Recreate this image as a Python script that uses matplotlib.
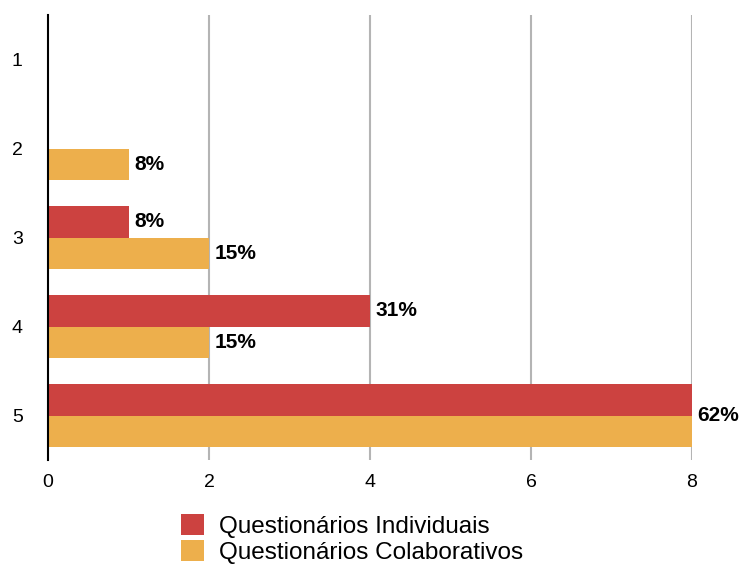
import matplotlib
matplotlib.use("Agg")
import matplotlib.pyplot as plt
from matplotlib.patches import Patch

categories = ["1", "2", "3", "4", "5"]
individuais = [0, 0, 1, 4, 8]
colaborativos = [0, 1, 2, 2, 8]
total = 13
x_ticks = [0, 2, 4, 6, 8]
series_names = ["Questionários Individuais", "Questionários Colaborativos"]

RED = "#CC4240"
YEL = "#EDAF4C"

plt.rcParams['font.family'] = ['Liberation Sans', 'DejaVu Sans']

fig = plt.figure(figsize=(7.41, 5.65), dpi=100)
ax = fig.add_axes([48/741, 1-460/565, (692-48)/741, (460-15)/565])

pos = list(range(1, len(categories)+1))
h = 0.35
ax.barh([p - h/2 for p in pos], individuais, height=h, color=RED, zorder=3)
ax.barh([p + h/2 for p in pos], colaborativos, height=h, color=YEL, zorder=3)

FS = 14
LFS = 15
for p, a, b in zip(pos, individuais, colaborativos):
    la = f"{round(100*a/total)}%" if a else None
    lb = f"{round(100*b/total)}%" if b else None
    if la and lb and a == b:
        ax.text(a + 0.07, p, la, va="center", ha="left", fontsize=LFS,
                fontweight="bold", zorder=4)
        continue
    if la:
        ax.text(a + 0.07, p - h/2, la, va="center", ha="left", fontsize=LFS, fontweight="bold", zorder=4)
    if lb:
        ax.text(b + 0.07, p + h/2, lb, va="center", ha="left", fontsize=LFS, fontweight="bold", zorder=4)

ax.set_ylim(5.5, 0.5)
ax.set_xlim(0, 8.0)
ax.set_yticks(pos)
ax.set_yticklabels(categories, fontsize=FS)
ax.set_xticks(x_ticks)
ax.set_xticklabels([str(t) for t in x_ticks], fontsize=FS)
ax.tick_params(axis='x', length=0, pad=10)
for t in ax.get_yticklabels():
    t.set_ha("left")
ax.tick_params(axis='y', length=0, pad=26)

for s in ["top", "right", "bottom"]:
    ax.spines[s].set_visible(False)
ax.spines["left"].set_color("black")
ax.spines["left"].set_linewidth(1.5)
ax.spines["left"].set_zorder(5)
for t in x_ticks[1:]:
    ax.axvline(t, color="#b4b4b4", linewidth=1.5, zorder=1)

handles = [Patch(facecolor=RED, label=series_names[0]), Patch(facecolor=YEL, label=series_names[1])]
fig.legend(handles=handles, loc="upper left", bbox_to_anchor=(181/741, 1-514/565),
           frameon=False, fontsize=17.5, handlelength=0.95, handleheight=0.95,
           handletextpad=0.6, labelspacing=0.1, borderaxespad=0, borderpad=0)

fig.savefig("out.png", dpi=100)
